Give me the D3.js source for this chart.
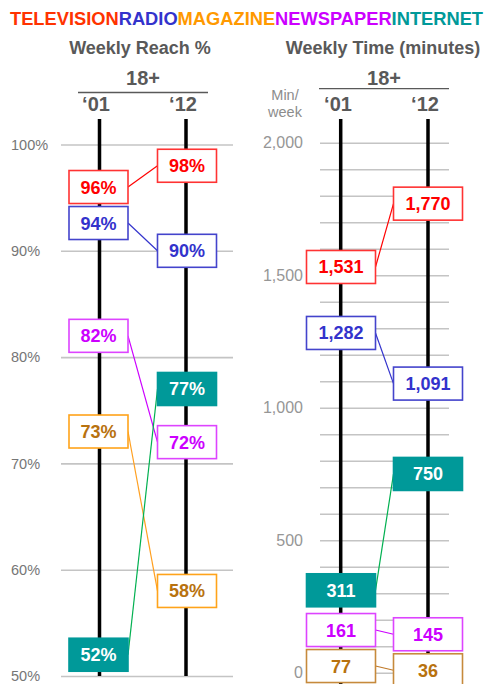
<!DOCTYPE html>
<html>
<head>
<meta charset="utf-8">
<script src="https://cdn.jsdelivr.net/npm/d3@7"></script>
<style>
  body { margin: 0; background: #fff; }
  svg { display: block; font-family: "Liberation Sans", Arial, sans-serif; }
</style>
</head>
<body>
<div id="chart"></div>
<script>
// media, in legend order
var media = ['TELEVISION', 'RADIO', 'MAGAZINE', 'NEWSPAPER', 'INTERNET'];
var years = ['\u201801', '\u201812'];

// weekly reach % (18+)
var reach01 = [96, 94, 73, 82, 52];
var reach12 = [98, 90, 58, 72, 77];

// weekly time, minutes (18+)
var time01 = [1531, 1282, 77, 161, 311];
var time12 = [1770, 1091, 36, 145, 750];

var reachTicks = [50, 60, 70, 80, 90, 100];
var timeTicks = [0, 500, 1000, 1500, 2000];

var titleColor = ['#ff3300', '#3333cc', '#ff9900', '#cc00ff', '#009999'];
var textColor = ['#ff0000', '#3333cc', '#b8720f', '#cc00ff', '#ffffff'];
var lineColor = ['#ff0000', '#3333cc', '#ffa020', '#cc00ff', '#00b050'];
var boxStroke = ['#ff3333', '#4444cc', '#ffa31a', '#dd44ff', '#009999'];
var boxFill = ['#fff', '#fff', '#fff', '#fff', '#009999'];

var W = 485, H = 684;
var svg = d3.select('#chart').append('svg')
  .attr('width', W).attr('height', H);

// legend title built from coloured words
var legend = svg.append('text')
  .attr('x', 10).attr('y', 25)
  .style('font-size', '18.3px').style('font-weight', 'bold');
legend.selectAll('tspan').data(media).enter().append('tspan')
  .attr('fill', function (d, i) {return titleColor[i];})
  .text(function (d) {return d;});

var grey = '#595959';

function header(cx, title, lineX0, lineX1, lineY, colX) {
  svg.append('text').attr('x', cx).attr('y', 54)
    .attr('text-anchor', 'middle').attr('fill', grey)
    .style('font-size', '18px').style('font-weight', 'bold')
    .text(title);
  svg.append('text').attr('x', (lineX0 + lineX1) / 2).attr('y', 85)
    .attr('text-anchor', 'middle').attr('fill', grey)
    .style('font-size', '20px').style('font-weight', 'bold')
    .text('18+');
  svg.append('line')
    .attr('x1', lineX0).attr('x2', lineX1)
    .attr('y1', lineY).attr('y2', lineY)
    .attr('stroke', grey).attr('stroke-width', 1.3);
  svg.selectAll(null).data(years).enter().append('text')
    .attr('x', function (d, i) {return colX[i] - 3;})
    .attr('y', 111)
    .attr('text-anchor', 'middle').attr('fill', grey)
    .style('font-size', '20px').style('font-weight', 'bold')
    .text(function (d) {return d;});
}

// push overlapping boxes downwards
function layout(values, y, minGap) {
  var items = values.map(function (v, i) {return {i: i, v: v, y: y(v)};});
  items.sort(function (a, b) {return a.y - b.y;});
  for (var k = 1; k < items.length; k++) {
    if (items[k].y - items[k - 1].y < minGap) items[k].y = items[k - 1].y + minGap;
  }
  var out = [];
  items.forEach(function (d) {out[d.i] = d.y;});
  return out;
}

function panel(opt) {
  var y = opt.y;
  var g = svg.append('g');

  // gridlines + tick labels through an axis
  var axis = g.append('g')
    .attr('transform', 'translate(' + opt.gridX0 + ',0)')
    .call(d3.axisLeft(y).tickValues(opt.gridTicks)
      .tickSize(-(opt.gridX1 - opt.gridX0))
      .tickPadding(opt.tickPad)
      .tickFormat(function (d) {return opt.labelTicks.indexOf(d) >= 0 ? opt.fmt(d) : '';}));
  axis.select('.domain').remove();
  axis.selectAll('.tick line').attr('stroke', '#c4c4c4').attr('stroke-width', 1.6);
  axis.selectAll('.tick text').attr('fill', opt.tickColor)
    .style('font-size', opt.tickSize).style('font-family', '"Liberation Sans", Arial, sans-serif');
  if (opt.leftAlign) {
    axis.selectAll('.tick text').attr('text-anchor', 'start').attr('x', opt.labelX - opt.gridX0);
  }

  // year columns
  g.selectAll(null).data(opt.colX).enter().append('line')
    .attr('x1', function (d) {return d;}).attr('x2', function (d) {return d;})
    .attr('y1', 119).attr('y2', opt.colBottom)
    .attr('stroke', '#000').attr('stroke-width', 3.5);

  var ya = layout(opt.a, y, 36);
  var yb = layout(opt.b, y, 36);
  var bw = opt.boxW, bh = 33;

  // connectors
  g.selectAll(null).data(media).enter().append('line')
    .attr('x1', opt.boxX[0] + bw / 2).attr('x2', opt.boxX[1] - bw / 2)
    .attr('y1', function (d, i) {return ya[i];})
    .attr('y2', function (d, i) {return yb[i];})
    .attr('stroke', function (d, i) {return opt.lineColor[i];})
    .attr('stroke-width', 1.2);

  [[opt.a, ya], [opt.b, yb]].forEach(function (col, c) {
    var cx = opt.boxX[c];
    var bg = g.selectAll(null).data(col[0]).enter().append('g')
      .attr('transform', function (d, i) {return 'translate(' + cx + ',' + col[1][i] + ')';});
    bg.append('rect')
      .attr('x', -bw / 2).attr('y', -bh / 2)
      .attr('width', bw).attr('height', bh)
      .attr('fill', function (d, i) {return boxFill[i];})
      .attr('stroke', function (d, i) {return opt.boxStroke[i];})
      .attr('stroke-width', 1.6);
    bg.append('text')
      .attr('text-anchor', 'middle').attr('dy', '0.36em')
      .attr('fill', function (d, i) {return textColor[i];})
      .style('font-size', '18px').style('font-weight', 'bold')
      .text(function (d) {return opt.valFmt(d);});
  });
}

// left: weekly reach
var yReach = d3.scaleLinear().domain([50, 100]).range([676, 144.5]);
header(140, 'Weekly Reach %', 78, 208, 92.5, [99, 186]);
panel({
  y: yReach, gridX0: 61, gridX1: 233, gridTicks: reachTicks, labelTicks: reachTicks,
  fmt: function (d) {return d + '%';}, tickPad: 8, tickColor: '#767676', tickSize: '14.5px',
  leftAlign: true, labelX: 11,
  colX: [99.5, 186], colBottom: 676, boxX: [98.5, 187], boxW: 59,
  a: reach01, b: reach12, valFmt: function (d) {return d + '%';},
  lineColor: lineColor, boxStroke: boxStroke
});

// right: weekly time
var yTime = d3.scaleLinear().domain([0, 2000]).range([672.7, 142.7]);
header(383, 'Weekly Time (minutes)', 319, 449, 88.7, [341, 428]);
svg.append('text').attr('x', 285).attr('y', 100).attr('text-anchor', 'middle')
  .attr('fill', '#8c8c8c').style('font-size', '14.5px').text('Min/');
svg.append('text').attr('x', 285).attr('y', 117).attr('text-anchor', 'middle')
  .attr('fill', '#8c8c8c').style('font-size', '14.5px').text('week');
panel({
  y: yTime, gridX0: 320, gridX1: 449, gridTicks: yTime.ticks(20), labelTicks: timeTicks,
  fmt: d3.format(','), tickPad: 17, tickColor: '#969696', tickSize: '16px',
  leftAlign: false,
  colX: [340.7, 428], colBottom: 684, boxX: [341, 428], boxW: 69,
  a: time01, b: time12, valFmt: d3.format(','),
  lineColor: ['#ff0000', '#3333cc', '#c07a2a', '#cc00ff', '#00b050'],
  boxStroke: ['#ff3333', '#4444cc', '#c68a3c', '#dd44ff', '#009999']
});
</script>
</body>
</html>
